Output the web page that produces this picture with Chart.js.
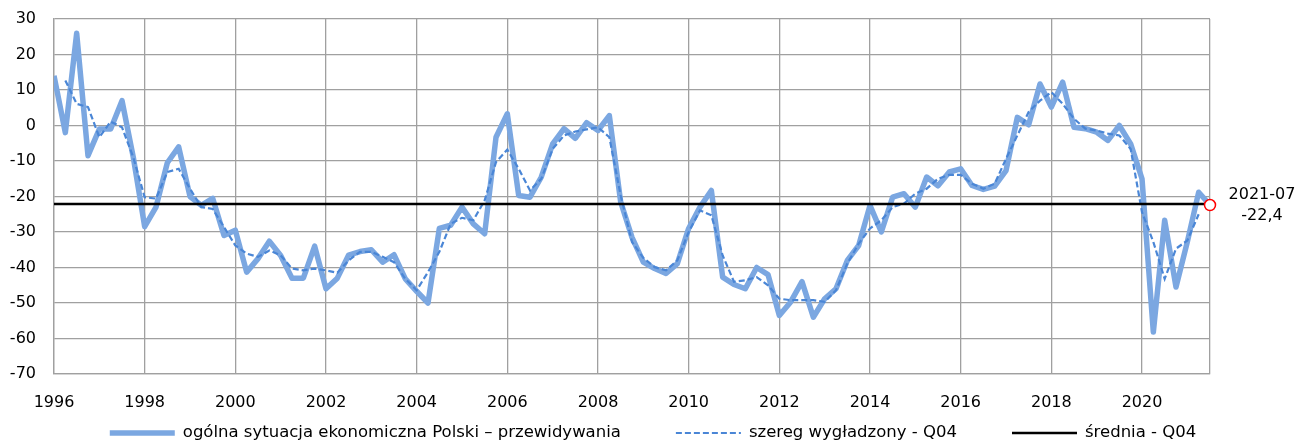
<!DOCTYPE html>
<html>
<head>
<meta charset="utf-8">
<script src="https://cdn.jsdelivr.net/npm/chart.js@4.4.0/dist/chart.umd.min.js"></script>
<style>
  html, body { margin: 0; padding: 0; background: #fff; }
  #wrap { width: 1302px; height: 446px; }
</style>
</head>
<body>
<div id="wrap"><canvas id="chart" width="1302" height="446"></canvas></div>
<script>
// quarterly survey readings, 1996-01 .. 2021-07
const quarters = [
  "1996-01","1996-04","1996-07","1996-10","1997-01","1997-04","1997-07","1997-10",
  "1998-01","1998-04","1998-07","1998-10","1999-01","1999-04","1999-07","1999-10",
  "2000-01","2000-04","2000-07","2000-10","2001-01","2001-04","2001-07","2001-10",
  "2002-01","2002-04","2002-07","2002-10","2003-01","2003-04","2003-07","2003-10",
  "2004-01","2004-04","2004-07","2004-10","2005-01","2005-04","2005-07","2005-10",
  "2006-01","2006-04","2006-07","2006-10","2007-01","2007-04","2007-07","2007-10",
  "2008-01","2008-04","2008-07","2008-10","2009-01","2009-04","2009-07","2009-10",
  "2010-01","2010-04","2010-07","2010-10","2011-01","2011-04","2011-07","2011-10",
  "2012-01","2012-04","2012-07","2012-10","2013-01","2013-04","2013-07","2013-10",
  "2014-01","2014-04","2014-07","2014-10","2015-01","2015-04","2015-07","2015-10",
  "2016-01","2016-04","2016-07","2016-10","2017-01","2017-04","2017-07","2017-10",
  "2018-01","2018-04","2018-07","2018-10","2019-01","2019-04","2019-07","2019-10",
  "2020-01","2020-04","2020-07","2020-10","2021-01","2021-04","2021-07"
];

const forecast = [
  14, -2, 26, -8.5, -1, -1, 7, -9,
  -28.5, -23, -10.5, -6, -20, -22.5, -20.5, -31,
  -29.5, -41.3, -37.5, -32.6, -36.6, -43, -43, -34,
  -46, -43, -36.5, -35.5, -35, -38.5, -36.4, -43.2,
  -46.7, -50, -29, -28.1, -23, -27.7, -30.5, -3.3,
  3.3, -19.7, -20.2, -14.5, -5.2, -0.9, -3.6, 0.8,
  -1.4, 2.8, -21.5, -31.5, -38.5, -40.3, -41.7, -38.9,
  -29, -23, -18.3, -42.7, -44.8, -46, -40, -42,
  -53.5, -49.7, -44, -54, -48.8, -46, -38, -33.8,
  -22.5, -30, -20.2, -19.2, -23, -14.5, -17, -13.1,
  -12.2, -16.9, -18, -17.1, -12.7, 2.3, 0.2, 11.7,
  5.2, 12.2, -0.5, -0.9, -1.9, -4.2, 0, -5.2,
  -15, -58.2, -26.7, -45.5, -32.8, -18.8, -22.4
];

const smoothed = [
  null, 12.7, 6.1, 5.2, -3.3, 1.1, -0.5, -9,
  -20.2, -20.6, -13.1, -12.2, -17.8, -23, -23.5, -28.6,
  -33.8, -36.1, -37, -35.2, -36.6, -40.3, -40.8, -40.3,
  -40.8, -41.5, -38, -35.6, -35.6, -37, -38.5, -43.2,
  -46.4, -41.3, -35.6, -27.7, -26, -26.7, -21.1, -10.3,
  -6.8, -12.2, -18.3, -15, -6.6, -2.8, -1.7, -1.1,
  -0.5, -3.3, -19.7, -32.8, -37.3, -39.9, -40.8, -38,
  -30, -23.9, -25.3, -36.6, -44, -43.6, -42.7, -45,
  -48.8, -49.2, -49.2, -49.2, -49.7, -46.4, -38.9, -33.3,
  -29, -26.7, -23, -22, -19.2, -17.8, -15, -13.9,
  -13.9, -16.4, -17.8, -16.4, -9.4, -2.8, 3.8, 7,
  9.4, 6.1, 1.9, -0.9, -1.4, -2.3, -2.8, -6.6,
  -24.4, -32.8, -43.2, -34.7, -32.4, -25, null
];

const average = [-22.1, -22.1];          // flat line from first to last quarter
const yearTicks = [1996, 1998, 2000, 2002, 2004, 2006, 2008, 2010, 2012, 2014, 2016, 2018, 2020];
const seriesNames = [
  "ogólna sytuacja ekonomiczna Polski – przewidywania",
  "szereg wygładzony - Q04",
  "średnia - Q04"
];

const FONT = "'DejaVu Sans', Verdana, sans-serif";
const GRID = "#a0a0a0";

function toYear(q) {
  const [y, m] = q.split("-").map(Number);
  return y + (m - 1) / 12;
}
const xs = quarters.map(toYear);
const last = quarters.length - 1;

const points = arr => arr.map((v, i) => ({ x: xs[i], y: v }));

// value label next to the last point
const lastLabel = {
  id: "lastLabel",
  afterDraw(chart) {
    const { ctx, scales } = chart;
    const px = scales.x.getPixelForValue(xs[last]);
    const py = scales.y.getPixelForValue(forecast[last]);
    ctx.save();
    ctx.font = "16px " + FONT;
    ctx.fillStyle = "#000";
    ctx.textAlign = "center";
    ctx.textBaseline = "middle";
    ctx.fillText(quarters[last], px + 52, py - 10);
    ctx.fillText(String(forecast[last]).replace(".", ","), px + 52, py + 11);
    ctx.restore();
  }
};

// bottom legend with wide gaps, as in the original
const wideLegend = {
  id: "wideLegend",
  afterDraw(chart) {
    const { ctx } = chart;
    const sample = 65, gap = 8, spacing = 55, y = 433;
    ctx.save();
    ctx.font = "16.5px " + FONT;
    const items = chart.data.datasets.filter(d => d.label).map(d => ({
      d, w: sample + gap + ctx.measureText(d.label).width
    }));
    const total = items.reduce((s, it) => s + it.w, 0) + spacing * (items.length - 1);
    let x = chart.width / 2 - total / 2 + 2;
    items.forEach(({ d, w }) => {
      ctx.beginPath();
      ctx.strokeStyle = d.borderColor;
      ctx.lineWidth = d.borderWidth;
      ctx.setLineDash(d.borderDash || []);
      ctx.lineCap = "butt";
      ctx.moveTo(x, y);
      ctx.lineTo(x + sample, y);
      ctx.stroke();
      ctx.setLineDash([]);
      ctx.fillStyle = "#000";
      ctx.textBaseline = "middle";
      ctx.textAlign = "left";
      ctx.fillText(d.label, x + sample + gap, y);
      x += w + spacing;
    });
    ctx.restore();
  }
};

new Chart(document.getElementById("chart"), {
  type: "line",
  data: {
    datasets: [
      {
        label: seriesNames[0],
        data: points(forecast),
        borderColor: "#7ba7e1",
        borderWidth: 5.5,
        borderJoinStyle: "round",
        pointRadius: 0,
        order: 3
      },
      {
        label: seriesNames[1],
        data: points(smoothed),
        borderColor: "#4a86d6",
        borderWidth: 2.2,
        borderDash: [6, 3],
        pointRadius: 0,
        spanGaps: false,
        order: 2
      },
      {
        label: seriesNames[2],
        data: [{ x: xs[0], y: average[0] }, { x: xs[last], y: average[1] }],
        borderColor: "#000",
        borderWidth: 2.6,
        pointRadius: 0,
        order: 1
      },
      {
        data: [{ x: xs[last], y: forecast[last] }],
        showLine: false,
        pointRadius: 5.5,
        pointBackgroundColor: "#fff",
        pointBorderColor: "#ff0000",
        pointBorderWidth: 1.5,
        clip: false,
        order: 0
      }
    ]
  },
  options: {
    responsive: false,
    animation: false,
    devicePixelRatio: 1,
    layout: { padding: { left: 0, right: 92, top: 19, bottom: 27 } },
    plugins: {
      legend: { display: false },
      tooltip: { enabled: false }
    },
    scales: {
      x: {
        type: "linear",
        min: xs[0],
        max: xs[last],
        afterBuildTicks: s => {
          s.ticks = yearTicks.concat([s.max]).map(v => ({ value: v }));
        },
        afterFit: s => { s.height = 45; },
        ticks: {
          callback: v => yearTicks.includes(v) ? String(v) : "",
          autoSkip: false,
          maxRotation: 0,
          padding: 19,
          color: "#000",
          font: { family: FONT, size: 16 }
        },
        grid: { color: GRID, lineWidth: 1.3, drawTicks: false },
        border: { color: GRID, width: 1.3 }
      },
      y: {
        min: -70,
        max: 30,
        afterFit: s => {
          s.width = 54;
          s.paddingTop = 10;
          s.paddingBottom = 10;
        },
        ticks: {
          stepSize: 10,
          padding: 18,
          color: "#000",
          font: { family: FONT, size: 16 }
        },
        grid: { color: GRID, lineWidth: 1.3, drawTicks: false },
        border: { color: GRID, width: 1.3 }
      }
    }
  },
  plugins: [lastLabel, wideLegend]
});
</script>
</body>
</html>
